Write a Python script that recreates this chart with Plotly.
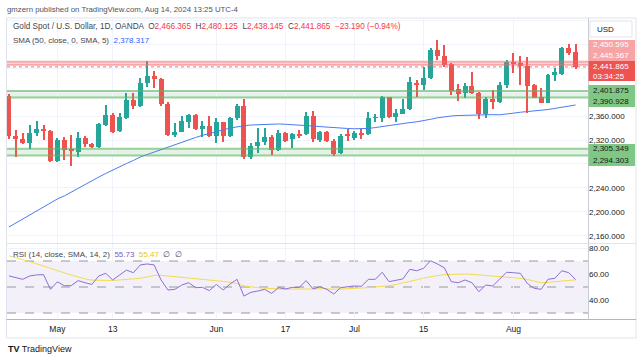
import plotly.graph_objects as go
import pandas as pd

W, H = 643, 361
def fx(px): return px / W
def fy(py): return 1 - py / H

# ---------------- data ----------------
dates = pd.bdate_range("2024-04-22", "2024-08-14")

opens = [2393.3, 2326.7, 2321.7, 2315.5, 2332.2, 2338.3, 2335.5, 2285.0, 2320.0, 2304.5,
         2300.5, 2323.8, 2313.3, 2307.8, 2345.0, 2361.7, 2335.0, 2357.2, 2386.7, 2376.7,
         2415.5, 2427.2, 2421.7, 2379.5, 2328.3, 2333.8, 2350.5, 2361.7, 2338.0, 2343.3,
         2327.2, 2349.5, 2327.2, 2356.2, 2377.2, 2292.2, 2310.0, 2316.2, 2325.5, 2303.3,
         2332.2, 2321.2, 2329.5, 2329.5, 2360.5, 2320.0, 2333.8, 2318.3, 2297.8, 2328.3,
         2323.0, 2332.2, 2329.5, 2356.7, 2356.2, 2391.2, 2357.8, 2363.3, 2371.7, 2414.5,
         2411.7, 2423.0, 2470.0, 2460.5, 2446.2, 2404.5, 2398.0, 2410.0, 2399.0, 2363.3,
         2388.3, 2383.8, 2411.7, 2450.5, 2447.8, 2443.3, 2411.7, 2391.7, 2381.2, 2428.3,
         2429.5, 2472.8, 2466.365]
highs = [2396.0, 2336.7, 2331.7, 2345.0, 2352.2, 2345.0, 2336.7, 2323.3, 2325.0, 2328.3,
         2333.8, 2326.7, 2315.5, 2347.8, 2378.3, 2364.5, 2364.5, 2397.8, 2398.8, 2422.8,
         2451.7, 2435.0, 2423.3, 2383.8, 2348.3, 2360.0, 2363.3, 2362.8, 2351.7, 2360.0,
         2356.2, 2350.5, 2358.8, 2380.0, 2388.3, 2314.5, 2340.5, 2340.5, 2328.3, 2336.7,
         2334.0, 2331.2, 2336.7, 2366.2, 2368.3, 2335.0, 2335.0, 2321.7, 2329.5, 2338.3,
         2335.0, 2337.8, 2366.2, 2362.8, 2393.3, 2392.2, 2371.7, 2387.8, 2425.5, 2420.0,
         2442.2, 2472.8, 2486.7, 2478.3, 2447.8, 2412.8, 2414.5, 2432.8, 2400.5, 2391.2,
         2403.3, 2417.2, 2453.3, 2464.5, 2460.5, 2459.0, 2412.8, 2407.2, 2429.5, 2439.5,
         2475.5, 2479.5, 2480.125]
lows = [2322.0, 2291.2, 2313.3, 2304.5, 2326.7, 2320.0, 2284.0, 2283.3, 2286.7, 2277.2,
        2291.2, 2308.8, 2306.2, 2306.2, 2343.3, 2332.2, 2333.8, 2354.5, 2371.2, 2374.5,
        2408.8, 2407.2, 2376.7, 2326.0, 2325.5, 2333.3, 2340.5, 2336.7, 2325.5, 2325.5,
        2314.5, 2316.2, 2325.5, 2353.3, 2288.3, 2288.3, 2297.8, 2311.7, 2295.0, 2301.7,
        2317.2, 2306.2, 2323.8, 2328.3, 2316.2, 2316.2, 2316.2, 2293.8, 2296.7, 2318.3,
        2320.0, 2321.2, 2328.3, 2349.5, 2349.5, 2356.2, 2349.5, 2362.8, 2370.0, 2392.2,
        2403.3, 2421.2, 2453.3, 2442.2, 2395.0, 2385.0, 2389.5, 2396.2, 2354.5, 2356.2,
        2371.7, 2382.2, 2406.7, 2431.2, 2411.7, 2365.5, 2389.5, 2381.2, 2381.2, 2418.3,
        2428.3, 2461.7, 2438.145]
closes = [2326.7, 2321.2, 2315.5, 2332.2, 2338.3, 2335.5, 2285.0, 2320.0, 2303.3, 2301.7,
          2323.8, 2312.8, 2307.8, 2346.2, 2361.7, 2333.8, 2358.8, 2386.7, 2376.7, 2415.5,
          2427.2, 2421.7, 2379.5, 2328.3, 2333.8, 2351.7, 2361.7, 2338.0, 2343.3, 2327.2,
          2349.5, 2327.2, 2356.2, 2377.2, 2292.2, 2310.0, 2316.2, 2325.5, 2303.3, 2332.2,
          2318.3, 2329.5, 2328.3, 2360.5, 2321.2, 2333.8, 2318.3, 2296.7, 2326.7, 2327.2,
          2331.2, 2329.5, 2356.2, 2357.8, 2392.2, 2357.8, 2364.5, 2371.7, 2417.2, 2411.7,
          2423.8, 2470.0, 2460.5, 2445.0, 2401.7, 2396.7, 2410.5, 2398.0, 2363.3, 2387.8,
          2383.8, 2411.7, 2450.5, 2446.7, 2443.3, 2410.0, 2390.5, 2382.2, 2428.3, 2432.8,
          2473.8, 2465.055, 2441.865]
sma50 = [2175.0, 2181.7, 2188.3, 2195.0, 2201.7, 2208.3, 2214.2, 2221.7, 2226.7, 2233.3,
         2239.2, 2245.5, 2251.7, 2258.3, 2264.2, 2270.0, 2275.8, 2280.8, 2285.8, 2291.7,
         2295.8, 2300.0, 2303.8, 2308.0, 2312.0, 2316.2, 2320.0, 2324.2, 2327.8, 2331.2,
         2334.2, 2337.0, 2340.0, 2342.3, 2343.7, 2345.0, 2345.7, 2346.3, 2346.7, 2346.7,
         2346.2, 2345.7, 2345.0, 2344.2, 2343.3, 2342.3, 2341.3, 2340.5, 2339.8, 2339.2,
         2338.7, 2338.7, 2339.3, 2340.7, 2342.5, 2344.7, 2346.2, 2347.5, 2349.0, 2350.3,
         2352.0, 2354.5, 2357.0, 2358.8, 2360.0, 2360.8, 2361.3, 2361.8, 2362.3, 2362.7,
         2362.3, 2362.0, 2362.8, 2364.7, 2366.3, 2367.3, 2368.2, 2369.5, 2370.8, 2372.7,
         2374.5, 2376.3, 2378.317]
rsi = [58.5, 57.0, 55.9, 58.5, 59.3, 59.5, 48.2, 54.0, 51.0, 51.0,
       54.9, 53.3, 52.0, 58.5, 60.5, 55.4, 59.0, 63.0, 61.0, 67.0,
       67.7, 67.0, 55.5, 47.7, 48.2, 51.5, 53.3, 49.5, 49.7, 47.2,
       52.0, 47.7, 52.3, 55.9, 43.0, 45.9, 46.9, 48.2, 45.1, 49.5,
       48.5, 49.7, 49.7, 54.9, 48.5, 50.2, 48.2, 44.6, 49.5, 50.2,
       50.8, 50.5, 55.9, 55.9, 61.3, 54.1, 54.9, 56.2, 63.6, 62.5,
       64.4, 70.2, 67.7, 64.8, 54.1, 53.3, 55.4, 53.3, 46.4, 51.5,
       50.8, 55.9, 61.3, 61.0, 60.5, 52.8, 49.0, 48.2, 55.9, 56.7,
       62.5, 61.0, 55.73]
rsi_ma = [74.0, 72.6, 71.1, 69.5, 67.8, 66.0, 64.2, 62.4, 60.8, 59.2,
          57.8, 56.2, 55.3, 55.2, 55.0, 55.0, 55.4, 55.9, 56.3, 56.7,
          57.8, 58.9, 59.0, 58.5, 58.1, 57.8, 57.2, 56.7, 56.2, 55.7,
          55.0, 54.3, 53.6, 52.6, 50.8, 50.0, 49.5, 49.1, 48.8, 48.4,
          48.2, 48.4, 48.5, 48.6, 48.8, 49.0, 48.6, 48.2, 48.4, 48.6,
          48.8, 49.1, 49.5, 50.0, 50.4, 51.0, 52.0, 53.0, 54.1, 55.5,
          56.9, 58.0, 58.8, 59.5, 59.8, 59.9, 60.0, 59.7, 59.3, 58.9,
          58.5, 58.2, 57.9, 57.3, 56.7, 55.8, 54.8, 53.3, 53.6, 54.2,
          54.7, 55.1, 55.47]

tick_dates = ["2024-05-01", "2024-05-13", "2024-06-03", "2024-06-17",
              "2024-07-01", "2024-07-15", "2024-08-01"]
tick_labels = ["May", "13", "Jun", "17", "Jul", "15", "Aug"]

resistance_zone = [2445.367, 2450.595]
support_zone_1 = [2390.928, 2401.875]
support_zone_2 = [2294.303, 2305.349]
last_price = 2441.865
countdown = "03:34:25"
price_ticks = [2160, 2200, 2240, 2280, 2320, 2360, 2400, 2440, 2480, 2520]
price_tick_shown = [2160, 2200, 2240, 2320, 2360]
rsi_ticks = [40, 60, 80]

# ---------------- build ----------------
GREEN, RED = "#26a69a", "#ef5350"
FONT = "Liberation Sans"
n = len(dates)
xs = list(range(n))
date_str = [d.strftime("%Y-%m-%d") for d in dates]
tickvals = [date_str.index(d) for d in tick_dates]
cols = [GREEN if c >= o else RED for o, c in zip(opens, closes)]
body_base = [min(o, c) for o, c in zip(opens, closes)]
body_h = [max(abs(c - o), 1.6) for o, c in zip(opens, closes)]

fig = go.Figure()
fig.add_trace(go.Bar(x=xs, y=[h - l for h, l in zip(highs, lows)], base=lows, width=0.15,
                     marker=dict(color=cols, line=dict(width=0)), yaxis="y", showlegend=False))
fig.add_trace(go.Bar(x=xs, y=body_h, base=body_base, width=0.72,
                     marker=dict(color=cols, line=dict(width=0)), yaxis="y", showlegend=False))
fig.add_trace(go.Scatter(x=xs, y=sma50, mode="lines", line=dict(color="#4c7cf0", width=1),
                         yaxis="y", showlegend=False))
fig.add_trace(go.Scatter(x=xs, y=rsi_ma, mode="lines", line=dict(color="#f5dc4c", width=1),
                         yaxis="y2", showlegend=False))
fig.add_trace(go.Scatter(x=xs, y=rsi, mode="lines", line=dict(color="#8e6fd4", width=1),
                         yaxis="y2", showlegend=False))

shapes = []
def hline(y, color, width=1, dash="solid", yref="y"):
    shapes.append(dict(type="line", xref="x domain", x0=0, x1=1, yref=yref, y0=y, y1=y,
                       line=dict(color=color, width=width, dash=dash), layer="above"))
def zone(lo, hi, fill, line):
    shapes.append(dict(type="rect", xref="x domain", x0=0, x1=1, yref="y", y0=lo, y1=hi,
                       fillcolor=fill, line=dict(width=0), layer="below"))
    hline(lo, line, 2)
    hline(hi, line, 2)

zone(resistance_zone[0], resistance_zone[1], "rgba(242,54,69,0.13)", "rgba(242,110,115,0.55)")
zone(support_zone_1[0], support_zone_1[1], "rgba(76,175,80,0.15)", "rgba(90,180,95,0.6)")
zone(support_zone_2[0], support_zone_2[1], "rgba(76,175,80,0.15)", "rgba(90,180,95,0.6)")
hline(last_price, "rgba(239,83,80,0.8)", 1, "dot")

# RSI band
shapes.append(dict(type="rect", xref="x domain", x0=0, x1=1, yref="y2", y0=30, y1=70,
                   fillcolor="rgba(126,87,194,0.09)", line=dict(width=0), layer="below"))
for v in (70, 50, 30):
    shapes.append(dict(type="line", xref="x domain", x0=0, x1=1, yref="y2", y0=v, y1=v,
                       line=dict(color="#9598a1", width=1, dash="dash"), layer="below"))

# frame / separators
def pline(x0, y0, x1, y1, color, width=1):
    shapes.append(dict(type="line", xref="paper", yref="paper", x0=fx(x0), y0=fy(y0),
                       x1=fx(x1), y1=fy(y1), line=dict(color=color, width=width), layer="above"))
shapes.append(dict(type="rect", xref="paper", yref="paper", x0=fx(6.5), y0=fy(338),
                   x1=fx(636), y1=fy(18), line=dict(color="#e0e3eb", width=1),
                   fillcolor="rgba(0,0,0,0)", layer="above"))
pline(6.5, 243.5, 636, 243.5, "#e0e3eb")
pline(6.5, 319.5, 636, 319.5, "#b2b5be")
pline(588.5, 18, 588.5, 319.5, "#c9ccd3")

annotations = []
def txt(x, y, s, color="#131722", size=8, xanchor="left"):
    annotations.append(dict(x=fx(x), y=fy(y), xref="paper", yref="paper", text=s,
                            showarrow=False, xanchor=xanchor, yanchor="middle",
                            borderpad=0, font=dict(family=FONT, size=size, color=color)))

def box(y0, y1, color):
    shapes.append(dict(type="rect", xref="paper", yref="paper", x0=fx(588.5), x1=fx(635),
                       y0=fy(y1), y1=fy(y0), fillcolor=color, line=dict(width=0), layer="above"))

# USD box
shapes.append(dict(type="rect", xref="paper", yref="paper", x0=fx(590), x1=fx(632),
                   y0=fy(37), y1=fy(21), fillcolor="white",
                   line=dict(color="#e0e3eb", width=1), layer="above"))
txt(596, 29, "USD", "#131722", 8)

box(40, 61, "#f7a4a7")
txt(592, 44.5, f"{resistance_zone[1]:,.3f}", "white")
txt(592, 55.5, f"{resistance_zone[0]:,.3f}", "white")
box(61, 81, "#ef5350")
txt(592, 66.5, f"{last_price:,.3f}", "white")
txt(592, 76, countdown, "white")
box(85, 107, "#81c784")
txt(592, 90.5, f"{support_zone_1[1]:,.3f}", "#131722")
txt(592, 101.5, f"{support_zone_1[0]:,.3f}", "#131722")
box(144, 166, "#81c784")
txt(592, 148.5, f"{support_zone_2[1]:,.3f}", "#131722")
txt(592, 160, f"{support_zone_2[0]:,.3f}", "#131722")

# header / legends
txt(6, 10, "gmzern published on TradingView.com, Aug 14, 2024 13:25 UTC-4", "#50535e", 7.8)
chg = closes[-1] - closes[-2]
pct = chg / closes[-2] * 100
red = "#f23645"
leg1 = ("Gold Spot / U.S. Dollar, 1D, OANDA  "
        f"O<span style='color:{red}'>{opens[-1]:,.3f}</span>  "
        f"H<span style='color:{red}'>{highs[-1]:,.3f}</span>  "
        f"L<span style='color:{red}'>{lows[-1]:,.3f}</span>  "
        f"C<span style='color:{red}'>{closes[-1]:,.3f}</span>  "
        f"<span style='color:{red}'>{chg:+.3f} ({pct:+.2f}%)</span>").replace("-", "−")
txt(12, 27, leg1, "#434651", 8.2)
txt(12, 40, f"SMA (50, close, 0, SMA, 5)  <span style='color:#2962ff'>{sma50[-1]:,.3f}</span>",
    "#434651", 8)
txt(12, 254, f"RSI (14, close, SMA, 14, 2)  <span style='color:#7e57c2'>{rsi[-1]:.2f}</span>  "
             f"<span style='color:#e6c619'>{rsi_ma[-1]:.2f}</span>  ∅  ∅", "#434651", 8)
txt(7, 349, "<b>TV</b> TradingView", "#131722", 9)

fig.update_layout(
    width=W, height=H, margin=dict(l=0, r=0, t=0, b=0),
    paper_bgcolor="white", plot_bgcolor="white",
    barmode="overlay", bargap=0, showlegend=False,
    shapes=shapes, annotations=annotations,
    xaxis=dict(domain=[fx(7), fx(588)], range=[-0.29, 83.79], anchor="y2",
               tickvals=tickvals, ticktext=tick_labels, showgrid=True, gridcolor="#f0f3fa",
               zeroline=False, showline=False, ticks="", ticklen=0, ticklabelstandoff=4,
               tickfont=dict(family=FONT, size=8.5, color="#131722")),
    yaxis=dict(domain=[fy(243), fy(19)], range=[2148.3, 2521.7], side="right", anchor="x",
               tickvals=price_ticks,
               ticktext=[f"{v:,.3f}" if v in price_tick_shown else "" for v in price_ticks],
               showgrid=True, gridcolor="#f0f3fa", zeroline=False, ticks="",
               tickfont=dict(family=FONT, size=8, color="#131722")),
    yaxis2=dict(domain=[fy(318), fy(244)], range=[26.15, 83.08], side="right", anchor="x",
                tickvals=rsi_ticks, ticktext=[f"{v:.2f}" for v in rsi_ticks],
                showgrid=True, gridcolor="#f0f3fa", zeroline=False, ticks="",
                tickfont=dict(family=FONT, size=8, color="#131722")),
)

fig.write_html("out.html", config={"displayModeBar": False},
               post_script="document.body.style.margin='0';document.body.style.overflow='hidden';")
